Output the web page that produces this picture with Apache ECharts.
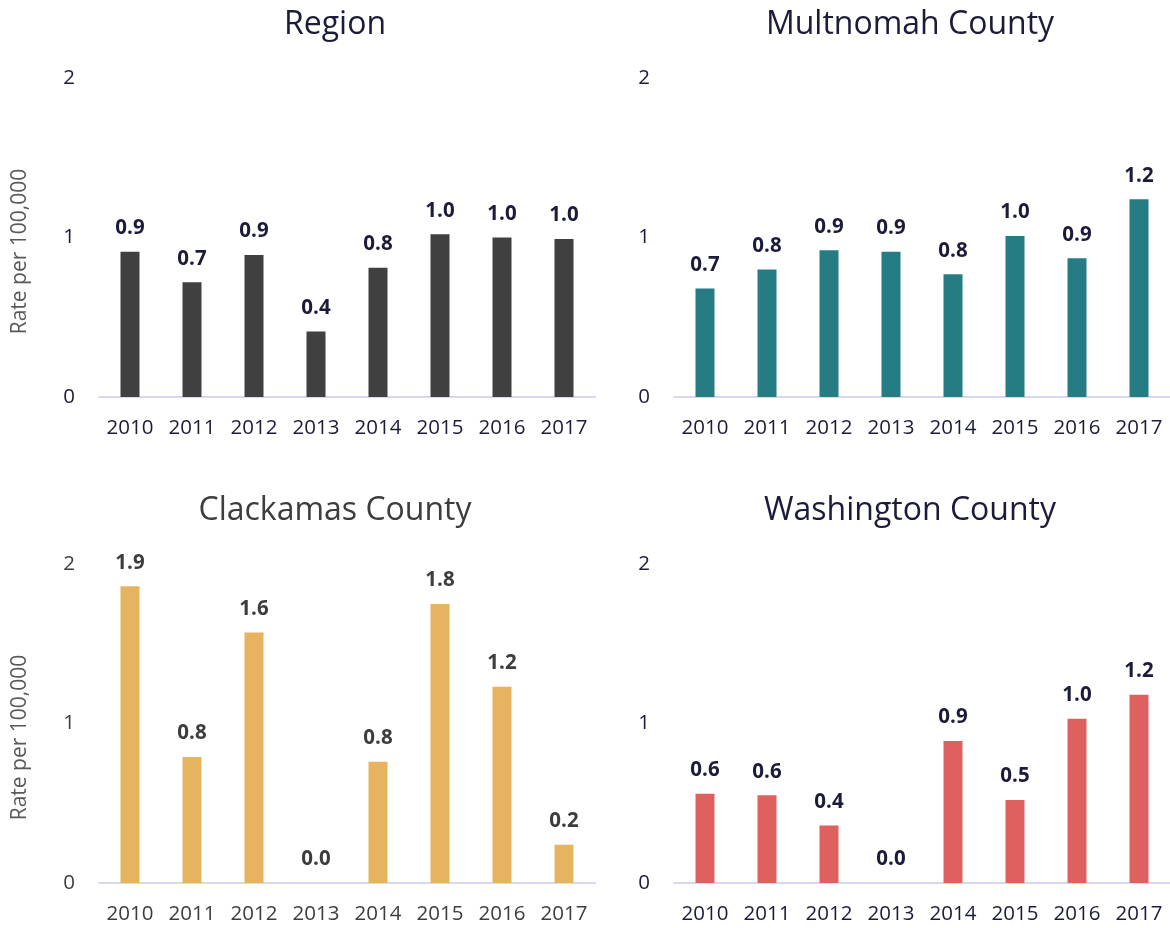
<!DOCTYPE html>
<html>
<head>
<meta charset="utf-8">
<title>Rate per 100,000</title>
<script src="https://cdn.jsdelivr.net/npm/echarts@6/dist/echarts.min.js"></script>
<style>
html, body { margin: 0; padding: 0; background: #fff; }
#chart { width: 1170px; height: 928px; }
</style>
</head>
<body>
<div id="chart"></div>
<script>
// years on the x axis
var years = ['2010', '2011', '2012', '2013', '2014', '2015', '2016', '2017'];

// rate per 100,000
var regionRate     = [0.91, 0.72, 0.89, 0.41, 0.81, 1.02, 1.00, 0.99];
var multnomahRate  = [0.68, 0.80, 0.92, 0.91, 0.77, 1.01, 0.87, 1.24];
var clackamasRate  = [1.86, 0.79, 1.57, 0.00, 0.76, 1.75, 1.23, 0.24];
var washingtonRate = [0.56, 0.55, 0.36, 0.00, 0.89, 0.52, 1.03, 1.18];

// y axis ticks
var yMin = 0;
var yMax = 2;
var yStep = 1;

var yName = 'Rate per 100,000';
var font = '"Open Sans", "Noto Sans", sans-serif';

var panels = [
	{ title: 'Region',            data: regionRate,     bar: '#404040', ink: '#1c1c3a', left: 99,  top: 78 },
	{ title: 'Multnomah County',  data: multnomahRate,  bar: '#257c83', ink: '#1c1c3a', left: 674, top: 78 },
	{ title: 'Clackamas County',  data: clackamasRate,  bar: '#e6b461', ink: '#3d3d3d', left: 99,  top: 564 },
	{ title: 'Washington County', data: washingtonRate, bar: '#de6160', ink: '#1c1c3a', left: 674, top: 564 }
];

var plotW = 496;
var plotH = 319;

var option = {
	backgroundColor: '#ffffff',
	animation: false,
	title: [],
	grid: [],
	xAxis: [],
	yAxis: [],
	series: [],
	graphic: []
};

for (var i = 0; i < panels.length; i++) {
	var p = panels[i];

	option.title.push({
		text: p.title,
		left: p.left + plotW / 2 - 12,
		top: p.top - 69,
		textAlign: 'center',
		padding: 0,
		textStyle: { fontFamily: font, fontSize: 32, fontWeight: 'normal', color: p.ink }
	});

	option.grid.push({ left: p.left, top: p.top, width: plotW, height: plotH });

	option.xAxis.push({
		type: 'category',
		gridIndex: i,
		data: years,
		axisLine: { lineStyle: { color: '#d8d8f2', width: 2 } },
		axisTick: { show: false },
		axisLabel: { color: p.ink, fontFamily: font, fontSize: 20.5, margin: 21 }
	});

	option.yAxis.push({
		type: 'value',
		gridIndex: i,
		min: yMin,
		max: yMax,
		interval: yStep,
		axisLine: { show: false },
		axisTick: { show: false },
		splitLine: { show: false },
		axisLabel: { color: p.ink, fontFamily: font, fontSize: 20.5, margin: 24 }
	});

	option.series.push({
		type: 'bar',
		name: p.title,
		xAxisIndex: i,
		yAxisIndex: i,
		data: p.data,
		barWidth: 19,
		itemStyle: { color: p.bar },
		label: {
			show: true,
			position: 'top',
			distance: 13,
			color: p.ink,
			fontFamily: font,
			fontSize: 20.5,
			fontWeight: 'bold',
			formatter: function (d) { return d.value.toFixed(1); }
		}
	});

	// axis name only on the left column
	if (p.left < 300) {
		option.graphic.push({
			type: 'text',
			x: 20,
			y: p.top + plotH / 2 + 14,
			rotation: Math.PI / 2,
			style: {
				text: yName,
				fill: '#595959',
				font: '21px ' + font,
				textAlign: 'center',
				textVerticalAlign: 'middle'
			}
		});
	}
}

var myChart = echarts.init(document.getElementById('chart'));
myChart.setOption(option);
</script>
</body>
</html>
